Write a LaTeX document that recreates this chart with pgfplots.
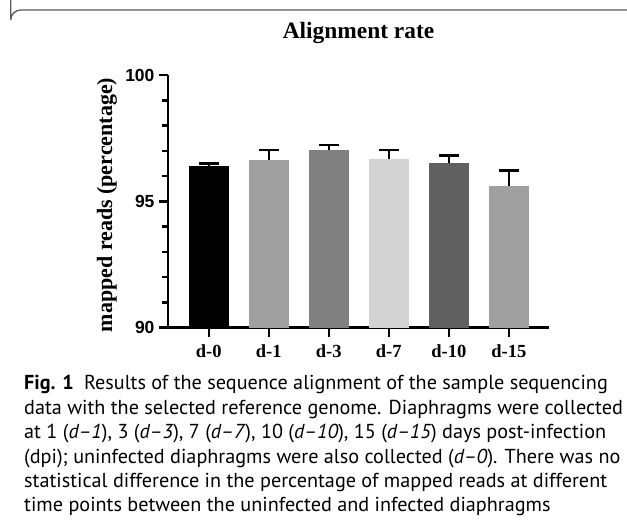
\documentclass[border=0pt]{standalone}
\usepackage{pgfplots}
\pgfplotsset{compat=1.18}
\usepackage{fontspec}
\setmainfont{Liberation Serif}
\setsansfont{Liberation Sans}
\newfontfamily\capfont{PT Sans}
\definecolor{cA}{HTML}{000000}
\definecolor{cB}{HTML}{A0A0A0}
\definecolor{cC}{HTML}{808080}
\definecolor{cD}{HTML}{D3D3D3}
\definecolor{cE}{HTML}{606060}
\definecolor{cF}{HTML}{A0A0A0}
\definecolor{frame}{HTML}{5A5A5A}
\begin{document}
\begin{tikzpicture}[x=1pt,y=1pt]
\useasboundingbox (0,0) rectangle (627,529);
\draw[frame, line width=1.3pt] (10.7,529.5) -- (10.7,509) arc[start angle=180,end angle=90,radius=10] -- (627.5,519);
\node[anchor=base, inner sep=0pt, font=\fontsize{23.4}{26}\selectfont\bfseries] at (358.5,490) {Alignment rate};
\begin{axis}[
  at={(168pt,201.3pt)}, anchor=south west,
  scale only axis, width=381pt, height=252.7pt,
  xmin=-0.68, xmax=5.67, ymin=90, ymax=100,
  axis x line*=bottom, axis y line*=left,
  axis line style={line width=2.5pt},
  ytick={90,95,100}, minor ytick={91,92,93,94,96,97,98,99},
  xtick={0,1,2,3,4,5}, xticklabels={d-0,d-1,d-3,d-7,d-10,d-15},
  tick align=outside, tick style={line width=2.5pt, black},
  major tick length=9pt, minor tick length=6pt,
  /pgf/number format/assume math mode=true,
  yticklabel style={font=\fontsize{17.5}{20}\selectfont\sffamily\bfseries, xshift=-1pt},
  xticklabel style={font=\fontsize{18.5}{22}\selectfont\bfseries, yshift=-4pt},
  ylabel={mapped reads (percentage)},
  ylabel style={font=\fontsize{22}{24}\selectfont\bfseries, at={(axis description cs:-0.160,0.4856)}, anchor=center},
  ybar, bar width=40pt,
  clip=false,
  error bars/y dir=plus, error bars/y explicit,
  error bars/error bar style={line width=2.5pt, black},
  error bars/error mark options={line width=2.5pt, black, mark size=10pt, rotate=90},
]
\addplot[fill=cA, draw=none, bar shift=0pt] coordinates {(0,96.41) +- (0,0.09)};
\addplot[fill=cB, draw=none, bar shift=0pt] coordinates {(1,96.64) +- (0,0.39)};
\addplot[fill=cC, draw=none, bar shift=0pt] coordinates {(2,97.02) +- (0,0.21)};
\addplot[fill=cD, draw=none, bar shift=0pt] coordinates {(3,96.68) +- (0,0.36)};
\addplot[fill=cE, draw=none, bar shift=0pt] coordinates {(4,96.52) +- (0,0.29)};
\addplot[fill=cF, draw=none, bar shift=0pt] coordinates {(5,95.62) +- (0,0.61)};
\end{axis}
\begin{scope}[every node/.style={anchor=base west, inner sep=0pt, font=\capfont\fontsize{20.2}{22}\selectfont}]
\node at (24,139) {\textbf{Fig. 1}\hspace{0.5em}Results of the sequence alignment of the sample sequencing};
\node at (24,114.6) {data with the selected reference genome. Diaphragms were collected};
\node at (24,90.2) {at 1 (\textit{d–1}), 3 (\textit{d–3}), 7 (\textit{d–7}), 10 (\textit{d–10}), 15 (\textit{d–15}) days post-infection};
\node at (24,65.8) {(dpi); uninfected diaphragms were also collected (\textit{d–0}). There was no};
\node at (24,41.4) {statistical difference in the percentage of mapped reads at different};
\node at (24,17) {time points between the uninfected and infected diaphragms};
\end{scope}
\end{tikzpicture}
\end{document}
